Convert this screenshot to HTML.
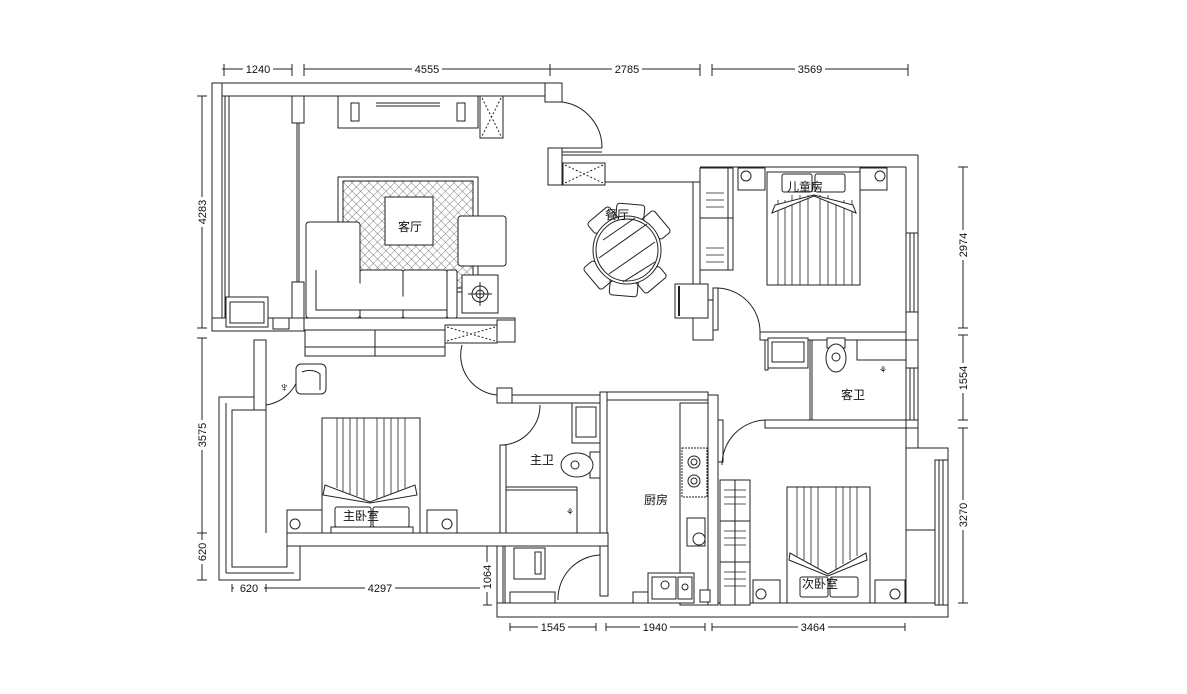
<!DOCTYPE html>
<html><head><meta charset="utf-8"><style>
html,body{margin:0;padding:0;background:#fff;}
svg{display:block}
text{font-family:"Liberation Sans","Noto Sans CJK SC",sans-serif;fill:#111}
.d{font-size:11px}
.r{font-size:12px}
</style></head><body>
<svg width="1187" height="694" viewBox="0 0 1187 694" xmlns="http://www.w3.org/2000/svg">
<defs>
<pattern id="h" width="6" height="6" patternUnits="userSpaceOnUse" patternTransform="rotate(45)">
<line x1="0" y1="0" x2="0" y2="6" stroke="#444" stroke-width="0.7"/><line x1="0" y1="0" x2="6" y2="0" stroke="#444" stroke-width="0.7"/>
</pattern>
</defs>
<g fill="none" stroke="#222" stroke-width="1">
<!-- dimension lines -->
<line x1="222" y1="69" x2="292" y2="69"/><line x1="304" y1="69" x2="550" y2="69"/><line x1="550" y1="69" x2="700" y2="69"/><line x1="712" y1="69" x2="908" y2="69"/>
<g stroke-width="1"><line x1="224" y1="64" x2="224" y2="76"/><line x1="292" y1="64" x2="292" y2="76"/><line x1="304" y1="64" x2="304" y2="76"/><line x1="550" y1="64" x2="550" y2="76"/><line x1="700" y1="64" x2="700" y2="76"/><line x1="712" y1="64" x2="712" y2="76"/><line x1="908" y1="64" x2="908" y2="76"/></g>
<line x1="202" y1="96" x2="202" y2="328"/><line x1="202" y1="338" x2="202" y2="528"/><line x1="202" y1="528" x2="202" y2="580"/>
<line x1="197" y1="96" x2="207" y2="96"/><line x1="197" y1="328" x2="207" y2="328"/><line x1="197" y1="338" x2="207" y2="338"/><line x1="197" y1="533" x2="207" y2="533"/><line x1="197" y1="580" x2="207" y2="580"/>
<line x1="963" y1="167" x2="963" y2="328"/><line x1="963" y1="335" x2="963" y2="420"/><line x1="963" y1="428" x2="963" y2="603"/>
<line x1="958" y1="167" x2="968" y2="167"/><line x1="958" y1="328" x2="968" y2="328"/><line x1="958" y1="335" x2="968" y2="335"/><line x1="958" y1="420" x2="968" y2="420"/><line x1="958" y1="428" x2="968" y2="428"/><line x1="958" y1="603" x2="968" y2="603"/>
<line x1="232" y1="588" x2="266" y2="588"/><line x1="266" y1="588" x2="490" y2="588"/><line x1="232" y1="584" x2="232" y2="592"/><line x1="266" y1="584" x2="266" y2="592"/>
<line x1="487" y1="545" x2="487" y2="605"/><line x1="483" y1="605" x2="492" y2="605"/>
<line x1="510" y1="627" x2="596" y2="627"/><line x1="606" y1="627" x2="705" y2="627"/><line x1="712" y1="627" x2="905" y2="627"/>
<line x1="510" y1="623" x2="510" y2="631"/><line x1="596" y1="623" x2="596" y2="631"/><line x1="606" y1="623" x2="606" y2="631"/><line x1="705" y1="623" x2="705" y2="631"/><line x1="712" y1="623" x2="712" y2="631"/><line x1="905" y1="623" x2="905" y2="631"/>
</g>
<g class="d" text-anchor="middle">
<rect x="243" y="62" width="30" height="12" fill="#fff"/><text x="258" y="73">1240</text>
<rect x="412" y="62" width="30" height="12" fill="#fff"/><text x="427" y="73">4555</text>
<rect x="612" y="62" width="30" height="12" fill="#fff"/><text x="627" y="73">2785</text>
<rect x="795" y="62" width="30" height="12" fill="#fff"/><text x="810" y="73">3569</text>
<rect x="234" y="582" width="30" height="12" fill="#fff"/><text x="249" y="592">620</text>
<rect x="365" y="582" width="30" height="12" fill="#fff"/><text x="380" y="592">4297</text>
<rect x="538" y="621" width="30" height="12" fill="#fff"/><text x="553" y="631">1545</text>
<rect x="640" y="621" width="30" height="12" fill="#fff"/><text x="655" y="631">1940</text>
<rect x="798" y="621" width="30" height="12" fill="#fff"/><text x="813" y="631">3464</text>
<g transform="translate(206,212) rotate(-90)"><rect x="-15" y="-11" width="30" height="12" fill="#fff"/><text x="0" y="0">4283</text></g>
<g transform="translate(206,435) rotate(-90)"><rect x="-15" y="-11" width="30" height="12" fill="#fff"/><text x="0" y="0">3575</text></g>
<g transform="translate(206,552) rotate(-90)"><rect x="-12" y="-11" width="24" height="12" fill="#fff"/><text x="0" y="0">620</text></g>
<g transform="translate(967,245) rotate(-90)"><rect x="-15" y="-11" width="30" height="12" fill="#fff"/><text x="0" y="0">2974</text></g>
<g transform="translate(967,378) rotate(-90)"><rect x="-15" y="-11" width="30" height="12" fill="#fff"/><text x="0" y="0">1554</text></g>
<g transform="translate(967,515) rotate(-90)"><rect x="-15" y="-11" width="30" height="12" fill="#fff"/><text x="0" y="0">3270</text></g>
<g transform="translate(491,577) rotate(-90)"><rect x="-15" y="-11" width="30" height="12" fill="#fff"/><text x="0" y="0">1064</text></g>
</g>

<g fill="#fff" stroke="#222" stroke-width="1">
<!-- walls -->
<rect x="212" y="83" width="350" height="13"/>
<rect x="212" y="83" width="10" height="248"/>
<line x1="225" y1="96" x2="225" y2="318"/><line x1="229" y1="96" x2="229" y2="318"/>
<rect x="292" y="96" width="12" height="27"/>
<line x1="299" y1="123" x2="299" y2="282"/><line x1="297" y1="123" x2="297" y2="282"/>
<rect x="292" y="282" width="12" height="49"/>
<rect x="212" y="318" width="93" height="13"/>
<rect x="304" y="318" width="211" height="12"/>
<rect x="545" y="83" width="17" height="19"/>
<rect x="548" y="148" width="14" height="37"/>
<line x1="562" y1="155" x2="918" y2="155"/><line x1="562" y1="182" x2="693" y2="182"/><line x1="700" y1="167" x2="906" y2="167"/>
<line x1="918" y1="155" x2="918" y2="428"/><line x1="906" y1="167" x2="906" y2="332"/>
<rect x="906" y="233" width="12" height="79"/><line x1="910" y1="233" x2="910" y2="312"/><line x1="914" y1="233" x2="914" y2="312"/>
<rect x="693" y="182" width="7" height="140"/>
<rect x="693" y="300" width="20" height="40"/>
<rect x="713" y="288" width="5" height="42"/>
<rect x="760" y="332" width="146" height="8"/>
<rect x="765" y="340" width="3" height="30"/>
<line x1="810" y1="340" x2="810" y2="420"/><line x1="812" y1="340" x2="812" y2="420"/>
<rect x="906" y="340" width="12" height="28"/>
<rect x="906" y="368" width="12" height="52"/><line x1="910" y1="368" x2="910" y2="420"/><line x1="914" y1="368" x2="914" y2="420"/>
<rect x="765" y="420" width="141" height="8"/>
<path d="M906 420 L918 420 L918 448 L948 448 L948 617 L497 617 L497 603 L906 603 Z"/>
<rect x="906" y="428" width="12" height="20"/>
<rect x="935" y="460" width="13" height="145"/><line x1="939" y1="460" x2="939" y2="605"/><line x1="943" y1="460" x2="943" y2="605"/>
<rect x="906" y="530" width="29" height="73"/>
<!-- kitchen -->
<rect x="605" y="392" width="103" height="8"/>
<rect x="600" y="392" width="7" height="163"/>
<rect x="708" y="395" width="10" height="210"/>
<rect x="718" y="420" width="5" height="42"/>
<!-- master bath -->
<rect x="497" y="388" width="15" height="15"/>
<rect x="512" y="395" width="88" height="8"/>
<rect x="500" y="445" width="6" height="100"/>
<line x1="506" y1="487" x2="577" y2="487"/><line x1="506" y1="490" x2="577" y2="490"/>
<line x1="577" y1="487" x2="577" y2="533"/>
<!-- master bedroom -->
<rect x="254" y="340" width="12" height="70"/>
<line x1="266" y1="410" x2="266" y2="533"/>
<rect x="287" y="533" width="321" height="13"/>
<path d="M219 397 L254 397 L254 410 L232 410 L232 567 L287 567 L287 546 L300 546 L300 580 L219 580 Z"/>
<line x1="226" y1="403" x2="226" y2="573"/><line x1="226" y1="573" x2="294" y2="573"/>
<!-- lower balcony -->
<rect x="497" y="546" width="8" height="57"/>
<line x1="503" y1="546" x2="503" y2="603"/>
<rect x="510" y="592" width="45" height="11"/><rect x="633" y="592" width="47" height="11"/>
<rect x="600" y="546" width="8" height="50"/>
</g>

<!-- door arcs -->
<g fill="none" stroke="#222" stroke-width="1">
<path d="M562 102 A46 46 0 0 1 602 148"/><line x1="562" y1="148" x2="602" y2="148"/><line x1="562" y1="152" x2="602" y2="152"/>
<path d="M718 288 A44 44 0 0 1 760 332"/>
<path d="M462 345 A40 40 0 0 0 497 395"/>
<path d="M540 405 A40 40 0 0 1 502 445"/>
<path d="M766 420 A45 45 0 0 0 722 465"/>
<path d="M600 555 A44 44 0 0 0 558 600"/>
<path d="M266 405 A40 40 0 0 0 300 370"/>
</g>

<!-- furniture -->
<g fill="#fff" stroke="#222" stroke-width="1">
<!-- TV cabinet -->
<rect x="338" y="96" width="140" height="32"/>
<rect x="351" y="103" width="8" height="18"/><rect x="457" y="103" width="8" height="18"/>
<line x1="376" y1="103" x2="440" y2="103"/><line x1="376" y1="106" x2="440" y2="106"/>
<rect x="480" y="96" width="23" height="42"/><path d="M482 98 L501 136 M501 98 L482 136" stroke-dasharray="2 2"/>
<rect x="563" y="163" width="42" height="22"/><path d="M565 165 L603 183 M603 165 L565 183" stroke-dasharray="2 2"/>
<!-- rug -->
<rect x="338" y="177" width="140" height="115"/>
<rect x="343" y="181" width="130" height="107" fill="url(#h)"/>
<rect x="385" y="197" width="48" height="48"/>
<!-- sofa -->
<rect x="306" y="222" width="54" height="96" rx="3"/>
<rect x="360" y="270" width="43" height="48" rx="2"/><rect x="403" y="270" width="44" height="48" rx="2"/>
<rect x="447" y="270" width="10" height="48" rx="2"/>
<path d="M316 270 L316 310 L447 310"/>
<rect x="458" y="216" width="48" height="50" rx="3"/>
<rect x="462" y="275" width="36" height="38"/><circle cx="480" cy="294" r="8"/><circle cx="480" cy="294" r="4"/>
<line x1="468" y1="294" x2="492" y2="294"/><line x1="480" y1="282" x2="480" y2="306"/>
<!-- balcony sink -->
<rect x="226" y="297" width="42" height="30"/><rect x="230" y="302" width="34" height="21"/>
<rect x="273" y="318" width="16" height="11"/>
<!-- living bottom cabinet -->
<rect x="305" y="330" width="140" height="26"/><line x1="375" y1="330" x2="375" y2="356"/><line x1="305" y1="347" x2="445" y2="347"/>
<rect x="445" y="325" width="52" height="18"/><path d="M447 327 L495 341 M495 327 L447 341" stroke-dasharray="2 2"/>
<rect x="497" y="320" width="18" height="22"/>
<!-- dining -->
<g transform="translate(627,250)">
<g transform="rotate(-40)">
<rect x="-14" y="-46" width="28" height="14" rx="3"/><rect x="-14" y="32" width="28" height="14" rx="3"/>
<rect x="-46" y="-14" width="14" height="28" rx="3"/><rect x="32" y="-14" width="14" height="28" rx="3"/>
</g>
<g transform="rotate(5)">
<rect x="-14" y="-46" width="28" height="14" rx="3"/><rect x="-14" y="32" width="28" height="14" rx="3"/>
</g>
<circle r="34"/><circle r="31"/>
<line x1="-24" y1="-10" x2="8" y2="-32" /><line x1="-28" y1="8" x2="20" y2="-26"/><line x1="-18" y1="24" x2="28" y2="-8"/><line x1="-4" y1="32" x2="28" y2="12"/>
</g>
<!-- fridge -->
<rect x="675" y="284" width="33" height="34"/><line x1="679" y1="286" x2="679" y2="316" stroke-width="2"/>
<!-- kids wardrobe -->
<rect x="700" y="168" width="33" height="102"/><line x1="700" y1="218" x2="733" y2="218"/><line x1="728" y1="168" x2="728" y2="270"/>
<g stroke-width="0.8"><line x1="706" y1="193" x2="724" y2="193"/><line x1="706" y1="200" x2="724" y2="200"/><line x1="706" y1="207" x2="724" y2="207"/>
<line x1="706" y1="248" x2="724" y2="248"/><line x1="706" y1="255" x2="724" y2="255"/><line x1="706" y1="262" x2="724" y2="262"/></g>
<!-- kids bed -->
<rect x="738" y="168" width="27" height="22"/><circle cx="746" cy="176" r="5"/>
<rect x="860" y="168" width="27" height="22"/><circle cx="880" cy="176" r="5"/>
<rect x="767" y="172" width="93" height="113"/>
<rect x="782" y="174" width="30" height="18" rx="2"/><rect x="815" y="174" width="30" height="18" rx="2"/>
<g stroke-width="0.8"><line x1="778" y1="200" x2="778" y2="285"/><line x1="785" y1="200" x2="785" y2="285"/><line x1="792" y1="195" x2="792" y2="285"/><line x1="800" y1="195" x2="800" y2="285"/><line x1="808" y1="195" x2="808" y2="285"/><line x1="820" y1="195" x2="820" y2="285"/><line x1="828" y1="195" x2="828" y2="285"/><line x1="836" y1="200" x2="836" y2="285"/><line x1="844" y1="200" x2="844" y2="285"/><line x1="852" y1="200" x2="852" y2="285"/></g>
<path d="M775 205 L772 213 L814 196 L856 213 L853 205 L814 195 Z"/>
<!-- guest bath -->
<rect x="768" y="338" width="40" height="30"/><rect x="772" y="342" width="32" height="20"/>
<rect x="827" y="338" width="18" height="10"/><ellipse cx="836" cy="358" rx="10" ry="14"/><circle cx="836" cy="357" r="4"/>
<rect x="857" y="340" width="49" height="20"/>
<text x="883" y="373" font-size="9" text-anchor="middle" stroke="none">⚘</text>
<!-- master bed -->
<rect x="287" y="510" width="35" height="23"/><circle cx="295" cy="524" r="5"/>
<rect x="427" y="510" width="30" height="23"/><circle cx="447" cy="524" r="5"/>
<rect x="322" y="418" width="98" height="115"/>
<g stroke-width="0.8"><line x1="337" y1="418" x2="337" y2="488"/><line x1="343" y1="418" x2="343" y2="492"/><line x1="350" y1="418" x2="350" y2="494"/><line x1="357" y1="418" x2="357" y2="496"/><line x1="364" y1="418" x2="364" y2="500"/><line x1="377" y1="418" x2="377" y2="500"/><line x1="384" y1="418" x2="384" y2="496"/><line x1="391" y1="418" x2="391" y2="494"/><line x1="398" y1="418" x2="398" y2="492"/><line x1="405" y1="418" x2="405" y2="488"/></g>
<path d="M325 485 L323 495 L370 503 L417 495 L415 485 L370 502 Z"/>
<rect x="335" y="507" width="36" height="20" rx="2"/><rect x="373" y="507" width="36" height="20" rx="2"/>
<rect x="331" y="527" width="82" height="6"/>
<!-- armchair -->
<rect x="296" y="364" width="30" height="30" rx="5"/><path d="M302 372 Q312 368 320 374 L320 390"/>
<text x="279" y="392" font-size="14" stroke="none">♆</text>
<!-- master bath fixtures -->
<rect x="572" y="403" width="28" height="40"/><rect x="576" y="407" width="20" height="30"/>
<rect x="590" y="452" width="10" height="26"/><ellipse cx="577" cy="465" rx="16" ry="12"/><circle cx="575" cy="465" r="4"/>
<text x="566" y="515" font-size="9" stroke="none">⚘</text>
<!-- washer -->
<rect x="514" y="548" width="31" height="31"/><rect x="535" y="552" width="6" height="22"/>
<!-- kitchen -->
<rect x="680" y="403" width="28" height="202"/>
<rect x="682" y="448" width="25" height="49" stroke-dasharray="2 1"/><circle cx="694" cy="462" r="6"/><circle cx="694" cy="462" r="3"/><circle cx="694" cy="481" r="6"/><circle cx="694" cy="481" r="3"/>
<rect x="687" y="518" width="18" height="28"/><circle cx="699" cy="539" r="6"/>
<rect x="648" y="573" width="46" height="30"/><rect x="652" y="577" width="24" height="22"/><rect x="678" y="577" width="14" height="22"/><circle cx="665" cy="585" r="4"/><circle cx="685" cy="587" r="3"/>
<rect x="700" y="590" width="10" height="12"/>
<!-- secondary wardrobe -->
<rect x="720" y="480" width="30" height="125"/><line x1="720" y1="521" x2="750" y2="521"/><line x1="720" y1="562" x2="750" y2="562"/><line x1="735" y1="480" x2="735" y2="605"/>
<g stroke-width="0.8"><line x1="724" y1="490" x2="746" y2="490"/><line x1="724" y1="497" x2="746" y2="497"/><line x1="724" y1="504" x2="746" y2="504"/><line x1="724" y1="531" x2="746" y2="531"/><line x1="724" y1="538" x2="746" y2="538"/><line x1="724" y1="545" x2="746" y2="545"/><line x1="724" y1="572" x2="746" y2="572"/><line x1="724" y1="579" x2="746" y2="579"/><line x1="724" y1="586" x2="746" y2="586"/></g>
<!-- secondary bed -->
<rect x="753" y="580" width="27" height="23"/><circle cx="761" cy="594" r="5"/>
<rect x="875" y="580" width="30" height="23"/><circle cx="895" cy="594" r="5"/>
<rect x="787" y="487" width="83" height="116"/>
<g stroke-width="0.8"><line x1="797" y1="487" x2="797" y2="556"/><line x1="804" y1="487" x2="804" y2="560"/><line x1="811" y1="487" x2="811" y2="564"/><line x1="818" y1="487" x2="818" y2="570"/><line x1="836" y1="487" x2="836" y2="570"/><line x1="843" y1="487" x2="843" y2="564"/><line x1="850" y1="487" x2="850" y2="560"/><line x1="857" y1="487" x2="857" y2="556"/></g>
<path d="M790 553 L789 560 L828 576 L867 560 L866 553 L828 574 Z"/>
<rect x="800" y="577" width="28" height="20" rx="2"/><rect x="830" y="577" width="28" height="20" rx="2"/>
</g>

<!-- room labels -->
<g class="r" text-anchor="middle">
<text x="410" y="231">客厅</text>
<text x="617" y="219">餐厅</text>
<text x="805" y="191">儿童房</text>
<text x="853" y="399">客卫</text>
<text x="542" y="464">主卫</text>
<text x="656" y="504">厨房</text>
<text x="361" y="520">主卧室</text>
<text x="820" y="588">次卧室</text>
</g>
</svg>
</body></html>
